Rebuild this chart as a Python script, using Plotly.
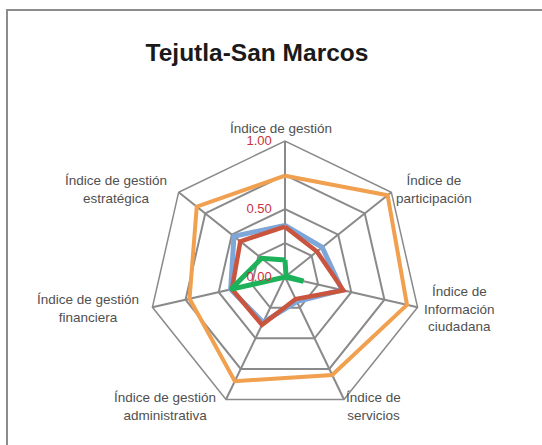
import plotly.graph_objects as go

# axis labels, clockwise from top
categories = [
    "Índice de gestión",
    "Índice de<br>participación",
    "Índice de<br>Información<br>ciudadana",
    "Índice de<br>servicios",
    "Índice de gestión<br>administrativa",
    "Índice de gestión<br>financiera",
    "Índice de gestión<br>estratégica",
]

serie_azul = [0.38, 0.35, 0.43, 0.20, 0.37, 0.41, 0.48]
serie_roja = [0.37, 0.30, 0.44, 0.18, 0.39, 0.40, 0.42]
serie_naranja = [0.745, 0.965, 0.92, 0.80, 0.85, 0.72, 0.83]
serie_verde = [0.125, 0.01, 0.14, 0.0, 0.0, 0.41, 0.22]

tick_vals = [0, 0.25, 0.5, 0.75, 1.0]
tick_text = ["0.00", "", "0.50", "", "1.00"]

W, H = 542, 445
cx, cy, r = 285, 277, 136  # centre and radius of the heptagon, in px

# where each category label sits (centre of text block, px from top-left)
label_pos = [(281, 128), (434, 189), (459, 309), (373, 406),
             (165, 406), (88, 308), (116, 189)]

fig = go.Figure()


def add_serie(vals, color, width):
    fig.add_trace(go.Scatterpolar(
        r=vals + vals[:1],
        theta=categories + categories[:1],
        mode="lines",
        line=dict(color=color, width=width),
        showlegend=False,
    ))


add_serie(serie_azul, "#7ea6d8", 5)
add_serie(serie_roja, "#c9553f", 4.5)
add_serie(serie_naranja, "#f0a04e", 4)
add_serie(serie_verde, "#1db25a", 5)

nb = "\u00a0" * 3

annotations = []
for name, (px, py) in zip(categories, label_pos):
    annotations.append(dict(
        text=name, x=px / W, y=1 - py / H, xref="paper", yref="paper",
        xanchor="center", yanchor="middle", align="center", showarrow=False,
        font=dict(family="Liberation Sans, Arial", size=13.5, color="#505050"),
    ))

fig.update_layout(
    width=W, height=H,
    margin=dict(l=0, r=0, t=0, b=0),
    paper_bgcolor="white",
    plot_bgcolor="white",
    title=dict(
        text="<b>Tejutla-San Marcos</b>",
        x=257 / W, xanchor="center",
        y=1 - 52 / H, yanchor="middle",
        font=dict(family="Liberation Sans, Arial", size=24.5, color="#1a1a1a"),
    ),
    polar=dict(
        domain=dict(x=[(cx - r) / W, (cx + r) / W],
                    y=[(H - cy - r) / H, (H - cy + r) / H]),
        bgcolor="white",
        gridshape="linear",
        radialaxis=dict(
            range=[0, 1],
            tickvals=tick_vals,
            ticktext=[t + nb if t else t for t in tick_text],
            angle=90,
            tickangle=90,
            side="counterclockwise",
            showline=False,
            ticks="",
            gridcolor="#8a8a8a",
            gridwidth=1.5,
            tickfont=dict(family="Liberation Sans, Arial", size=13, color="#c8323c"),
        ),
        angularaxis=dict(
            direction="clockwise",
            rotation=90,
            showline=True,
            linecolor="#8a8a8a",
            linewidth=1.5,
            gridcolor="#8a8a8a",
            gridwidth=1.5,
            ticks="",
            showticklabels=False,
        ),
    ),
    annotations=annotations,
    shapes=[
        dict(type="rect", xref="paper", yref="paper",
             x0=7 / W, x1=1.05, y0=-0.05, y1=1 - 10 / H,
             line=dict(color="#8c8c8c", width=2)),
    ],
)

# the page body has a default 8px margin; drop it so the figure sits at 0,0
fig.write_html("out.html", config={"displayModeBar": False},
               post_script="document.body.style.margin='0';")
